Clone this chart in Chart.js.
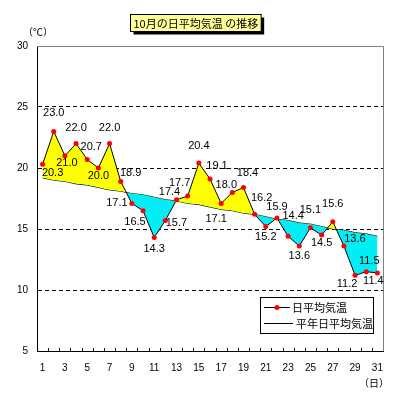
<!DOCTYPE html>
<html>
<head>
<meta charset="utf-8">
<script src="https://cdn.jsdelivr.net/npm/chart.js@4.4.1/dist/chart.umd.min.js"></script>
<style>
  body { margin: 0; background: #fff; }
  #wrap { width: 399px; height: 400px; }
</style>
</head>
<body>
<div id="wrap"><canvas id="grafico" width="399" height="400"></canvas></div>
<script>
// dados do grafico
const days = ['1','2','3','4','5','6','7','8','9','10','11','12','13','14','15','16',
  '17','18','19','20','21','22','23','24','25','26','27','28','29','30','31'];
const dailyTemp = [20.3, 23.0, 21.0, 22.0, 20.7, 20.0, 22.0, 18.9, 17.1, 16.5, 14.3,
  15.7, 17.4, 17.7, 20.4, 19.1, 17.1, 18.0, 18.4, 16.2, 15.2, 15.9, 14.4, 13.6, 15.1,
  14.5, 15.6, 13.6, 11.2, 11.5, 11.4];
const normalTemp = [19.2, 19.0, 18.9, 18.7, 18.6, 18.4, 18.2, 18.1, 17.9, 17.8, 17.6,
  17.4, 17.3, 17.1, 17.0, 16.8, 16.6, 16.5, 16.3, 16.2, 16.0, 15.8, 15.7, 15.5, 15.4,
  15.2, 15.0, 14.9, 14.7, 14.6, 14.4];
const yTicks = [5, 10, 15, 20, 25, 30];
const seriesNames = ['日平均気温', '平年日平均気温'];
const titleText = '10月の日平均気温 の推移';

const jp = "'Noto Sans CJK JP', sans-serif";
const num = "'Liberation Sans', Arial, sans-serif";

// deslocamento de cada rotulo em relacao ao ponto
const labelPos = [[10,9],[0,-18],[2,7],[0,-16],[4,-12],[0,8],[0,-16],[10,-8],[-15,0],[-8,11],
  [0,11],[11,3],[-7,-8],[-8,-13],[0,-17],[7,-13],[-5,16],[-6,-7],[4,-15],[7,-16],
  [0,10],[0,-11],[5,-20],[0,10],[0,-18],[0,8],[0,-18],[11,-7],[-8,9],[3,-11],[-4,8]];

const extras = {
  id: 'extras',
  afterDraw(chart) {
    const ctx = chart.ctx;
    const a = chart.chartArea;
    const x = chart.scales.x;
    ctx.save();

    // moldura superior e direita
    ctx.strokeStyle = '#808080';
    ctx.lineWidth = 1;
    ctx.beginPath();
    ctx.moveTo(a.left, a.top + 0.5);
    ctx.lineTo(a.right + 0.5, a.top + 0.5);
    ctx.lineTo(a.right + 0.5, a.bottom);
    ctx.stroke();

    // tracinhos do eixo x
    ctx.strokeStyle = '#000';
    ctx.beginPath();
    for (let i = 1; i < days.length; i++) {
      const px = Math.round((x.getPixelForValue(i - 1) + x.getPixelForValue(i)) / 2) + 0.5;
      ctx.moveTo(px, a.bottom);
      ctx.lineTo(px, a.bottom - 3);
    }
    ctx.stroke();

    // rotulos dos valores
    const meta = chart.getDatasetMeta(0);
    ctx.fillStyle = '#000';
    ctx.font = '11px ' + num;
    ctx.textAlign = 'center';
    ctx.textBaseline = 'middle';
    meta.data.forEach((p, i) => {
      const o = labelPos[i];
      ctx.fillText(dailyTemp[i].toFixed(1), p.x + o[0], p.y + o[1]);
    });

    // titulo
    ctx.font = '11px ' + jp;
    const tw = ctx.measureText(titleText).width;
    const bw = tw + 6, bh = 17;
    const bx = Math.round(195 - bw / 2) + 0.5, by = 14.5;
    ctx.fillStyle = '#000';
    ctx.fillRect(bx + 3, by + 3, bw, bh);
    ctx.fillStyle = '#FFFF99';
    ctx.fillRect(bx, by, bw, bh);
    ctx.strokeStyle = '#000';
    ctx.strokeRect(bx, by, bw, bh);
    ctx.fillStyle = '#000';
    ctx.textAlign = 'center';
    ctx.fillText(titleText, bx + bw / 2, by + bh / 2 + 0.5);

    // unidades
    ctx.font = '10px ' + jp;
    ctx.fillText('（℃）', 38, 32);
    ctx.fillText('（日）', 374, 383);

    // legenda
    const lx = 260.5, ly = 297.5;
    ctx.fillStyle = '#fff';
    ctx.fillRect(lx, ly, 113, 36);
    ctx.strokeRect(lx, ly, 113, 36);
    ctx.beginPath();
    ctx.moveTo(264, 307.5); ctx.lineTo(290, 307.5);
    ctx.moveTo(264, 323.5); ctx.lineTo(293, 323.5);
    ctx.stroke();
    ctx.fillStyle = '#FF0000';
    ctx.beginPath();
    ctx.arc(277, 307.5, 2.5, 0, Math.PI * 2);
    ctx.fill();
    ctx.fillStyle = '#000';
    ctx.font = '11px ' + jp;
    ctx.textAlign = 'left';
    ctx.fillText(seriesNames[0], 292, 308);
    ctx.fillText(seriesNames[1], 296, 324);

    ctx.restore();
  }
};

new Chart(document.getElementById('grafico').getContext('2d'), {
  type: 'line',
  data: {
    labels: days,
    datasets: [{
      label: seriesNames[0],
      data: dailyTemp,
      borderColor: '#000',
      borderWidth: 1,
      pointRadius: 2.5,
      pointBackgroundColor: '#FF0000',
      pointBorderWidth: 0,
      tension: 0,
      fill: { target: 1, above: '#FFFF00', below: '#00EEF5' }
    }, {
      label: seriesNames[1],
      data: normalTemp,
      borderColor: '#000',
      borderWidth: 1,
      pointRadius: 0,
      tension: 0,
      fill: false
    }]
  },
  plugins: [extras],
  options: {
    responsive: false,
    animation: false,
    layout: { padding: { top: 46, right: 16, left: 0, bottom: 0 } },
    plugins: {
      legend: { display: false },
      tooltip: { enabled: false }
    },
    scales: {
      x: {
        type: 'category',
        offset: true,
        afterFit(scale) { scale.height = 49; },
        grid: { display: false, drawTicks: false },
        border: { display: true, color: '#000', width: 1 },
        ticks: {
          autoSkip: false,
          maxRotation: 0,
          padding: 11,
          color: '#000',
          font: { family: num, size: 10 },
          callback: (v, i) => (i % 2 === 0 ? days[i] : '')
        }
      },
      y: {
        min: 5,
        max: 30,
        afterFit(scale) { scale.width = 37; },
        afterBuildTicks(scale) { scale.ticks = yTicks.map(v => ({ value: v })); },
        grid: {
          drawTicks: false,
          color: ctx => (ctx.tick && (ctx.tick.value === 5 || ctx.tick.value === 30) ? 'rgba(0,0,0,0)' : '#000'),
          lineWidth: 1
        },
        border: { display: true, color: '#000', width: 1, dash: [4, 3] },
        ticks: {
          padding: 9,
          color: '#000',
          font: { family: num, size: 10 }
        }
      }
    }
  }
});
</script>
</body>
</html>
